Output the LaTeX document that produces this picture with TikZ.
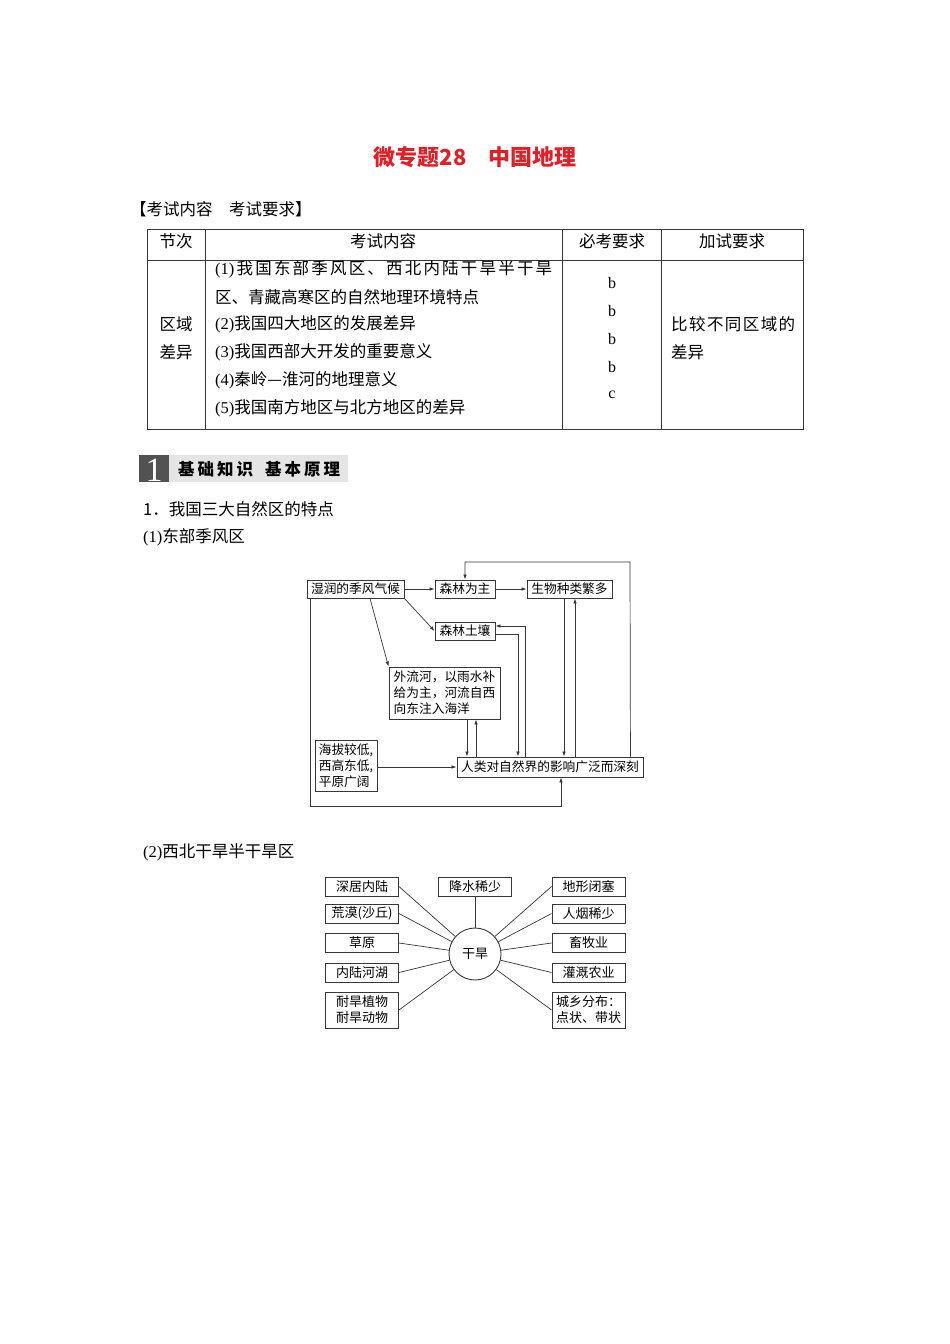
\documentclass[tikz,border=0pt]{standalone}
\usepackage{fontspec}
\setmainfont{Noto Sans CJK SC}
\newfontfamily\lat{Liberation Serif}
\usetikzlibrary{arrows.meta,calc}
\definecolor{titlered}{RGB}{228,30,38}
\definecolor{ln}{RGB}{55,55,55}
\begin{document}
\begin{tikzpicture}[x=1pt,y=-1pt,
  box/.style={draw=ln,line width=0.9pt,inner sep=0pt,align=center,font=\fontsize{12.7}{16}\selectfont},
  box2/.style={draw=ln,line width=0.9pt,inner sep=0pt,minimum width=73pt,align=center,font=\fontsize{13}{16}\selectfont},
  conn/.style={draw=ln,line width=0.7pt},
  arr/.style={conn,-{Latex[length=5pt,width=3.5pt]}},
  txt/.style={inner sep=0pt,font=\fontsize{16.5}{20}\selectfont},
  tline/.style={draw=ln,line width=0.9pt}]
\fill[white] (0,0) rectangle (950,1344);
\useasboundingbox (0,0) rectangle (950,1344);

% title
\node[inner sep=0pt,font=\fontsize{22}{26}\selectfont\bfseries,text=titlered] (title) at (475,157) {微专题28　中国地理};
\node[txt,anchor=west] (hd) at (130,209) {【考试内容　考试要求】};

% table
\draw[tline] (147,229) rectangle (803,429);
\draw[tline] (147,260) -- (803,260);
\draw[tline] (205,229) -- (205,429);
\draw[tline] (562,229) -- (562,429);
\draw[tline] (661,229) -- (661,429);
\node[txt] (h1) at (176,241) {节次};
\node[txt] (h2) at (383,241) {考试内容};
\node[txt] (h3) at (612,241) {必考要求};
\node[txt] (h4) at (732,241) {加试要求};
\node[txt] (r1a) at (176,324) {区域};
\node[txt] (r1b) at (176,352) {差异};
\node[txt,anchor=west] (l1) at (215,269) {\makebox[337pt][s]{{\lat(1)}\hfill 我\hfill 国\hfill 东\hfill 部\hfill 季\hfill 风\hfill 区\hfill 、\hfill 西\hfill 北\hfill 内\hfill 陆\hfill 干\hfill 旱\hfill 半\hfill 干\hfill 旱}};
\node[txt,anchor=west] (l2) at (215,297) {区、青藏高寒区的自然地理环境特点};
\node[txt,anchor=west] (l3) at (215,324) {{\lat(2)}我国四大地区的发展差异};
\node[txt,anchor=west] (l4) at (215,352) {{\lat(3)}我国西部大开发的重要意义};
\node[txt,anchor=west] (l5) at (215,380) {{\lat(4)}秦岭—淮河的地理意义};
\node[txt,anchor=west] (l6) at (215,408) {{\lat(5)}我国南方地区与北方地区的差异};
\node[txt,font=\lat\fontsize{16}{20}\selectfont] (b1) at (612,283) {b};
\node[txt,font=\lat\fontsize{16}{20}\selectfont] (b2) at (612,311) {b};
\node[txt,font=\lat\fontsize{16}{20}\selectfont] (b3) at (612,339) {b};
\node[txt,font=\lat\fontsize{16}{20}\selectfont] (b4) at (612,367) {b};
\node[txt,font=\lat\fontsize{16}{20}\selectfont] (b5) at (612,395) {c};
\node[txt,anchor=west] (j1) at (671,324) {\makebox[124pt][s]{比\hfill 较\hfill 不\hfill 同\hfill 区\hfill 域\hfill 的}};
\node[txt,anchor=west] (j2) at (671,352) {差异};

% section header
\fill[black!68] (139,455) rectangle (169,482);
\fill[black!10] (169,455) rectangle (348,482);
\node[inner sep=0pt,text=white,font=\lat\fontsize{34}{34}\selectfont] (sn) at (154,470) {1};
\node[txt,anchor=west,font=\fontsize{16.5}{20}\selectfont\bfseries] (st) at (178,469) {\makebox[162pt][s]{基\hfill 础\hfill 知\hfill 识\hspace{12pt}基\hfill 本\hfill 原\hfill 理}};

\node[txt,anchor=west] (s1) at (143,509) {1．我国三大自然区的特点};
\node[txt,anchor=west] (s2) at (143,537) {{\lat(1)}东部季风区};
\node[txt,anchor=west] (s3) at (143,852) {{\lat(2)}西北干旱半干旱区};

% diagram 1
\node[box,minimum width=97pt,minimum height=18pt] (a) at (355.5,589) {湿润的季风气候};
\node[box,minimum width=60pt,minimum height=18pt] (b) at (465,589) {森林为主};
\node[box,minimum width=85pt,minimum height=18pt] (c) at (569.5,589) {生物种类繁多};
\node[box,minimum width=60pt,minimum height=18pt] (d) at (465,631) {森林土壤};
\node[box,minimum width=111pt,minimum height=52pt,align=left] (e) at (444.5,693) {外流河，以雨水补\\给为主，河流自西\\向东注入海洋};
\node[box,minimum width=62pt,minimum height=51pt,align=left] (f) at (346,765.5) {海拔较低,\\西高东低,\\平原广阔};
\node[box,minimum width=186pt,minimum height=20pt] (g) at (550,767) {人类对自然界的影响广泛而深刻};

\draw[arr] (a.east) -- (b.west);
\draw[arr] (b.east) -- (c.west);
\draw[arr] (a.south east) -- (d.west);
\draw[arr] ([xshift=14.5pt]a.south) -- (e.north west);
\coordinate (t1) at (630,562);
\draw[arr] ([xshift=-13pt]g.north east) -- (t1) -| (b.north);
\coordinate (c1) at ([xshift=-5.5pt]c.south);
\coordinate (c2) at ([xshift=5.5pt]c.south);
\draw[arr] (c1) -- (c1 |- g.north);
\draw[arr] (c2 |- g.north) -- (c2);
\coordinate (v1) at (518,0);
\coordinate (v2) at (525,0);
\draw[arr] ([yshift=-3pt]d.east) -| (v1 |- g.north);
\draw[arr] (v2 |- g.north) |- ([yshift=5pt]d.east);
\coordinate (v3) at (467,0);
\coordinate (v4) at (476,0);
\draw[arr] (v3 |- e.south) -- (v3 |- g.north);
\draw[arr] (v4 |- g.north) -- (v4 |- e.south);
\draw[arr] (f.east |- g.west) -- (g.west);
\coordinate (v5) at (310,806);
\coordinate (v6) at (561,0);
\draw[arr] (v5 |- a.south) -- (v5) -| (v6 |- g.south);

% diagram 2
\node[draw=ln,line width=0.9pt,circle,minimum size=52pt,inner sep=0pt,font=\fontsize{13}{16}\selectfont] (hh) at (475,954) {干旱};
\node[box2,minimum height=19pt] (L1) at (362,886.5) {深居内陆};
\node[box2,minimum height=19pt] (L2) at (362,913.5) {荒漠(沙丘)};
\node[box2,minimum height=19pt] (L3) at (362,943) {草原};
\node[box2,minimum height=19pt] (L4) at (362,972.5) {内陆河湖};
\node[box2,minimum height=36pt] (L5) at (362,1010) {耐旱植物\\耐旱动物};
\node[box2,minimum height=19pt] (M) at (475,886.5) {降水稀少};
\node[box2,minimum height=19pt] (R1) at (588.5,886.5) {地形闭塞};
\node[box2,minimum height=19pt] (R2) at (588.5,913.5) {人烟稀少};
\node[box2,minimum height=19pt] (R3) at (588.5,943) {畜牧业};
\node[box2,minimum height=19pt] (R4) at (588.5,972.5) {灌溉农业};
\node[box2,minimum height=36pt] (R5) at (588.5,1010) {城乡分布：\\点状、带状};
\foreach \n in {L1,L2,L3,L4,L5} \draw[conn] (\n.east) -- (hh);
\foreach \n in {R1,R2,R3,R4,R5} \draw[conn] (\n.west) -- (hh);
\draw[conn] (M.south) -- (hh);
\end{tikzpicture}
\end{document}
